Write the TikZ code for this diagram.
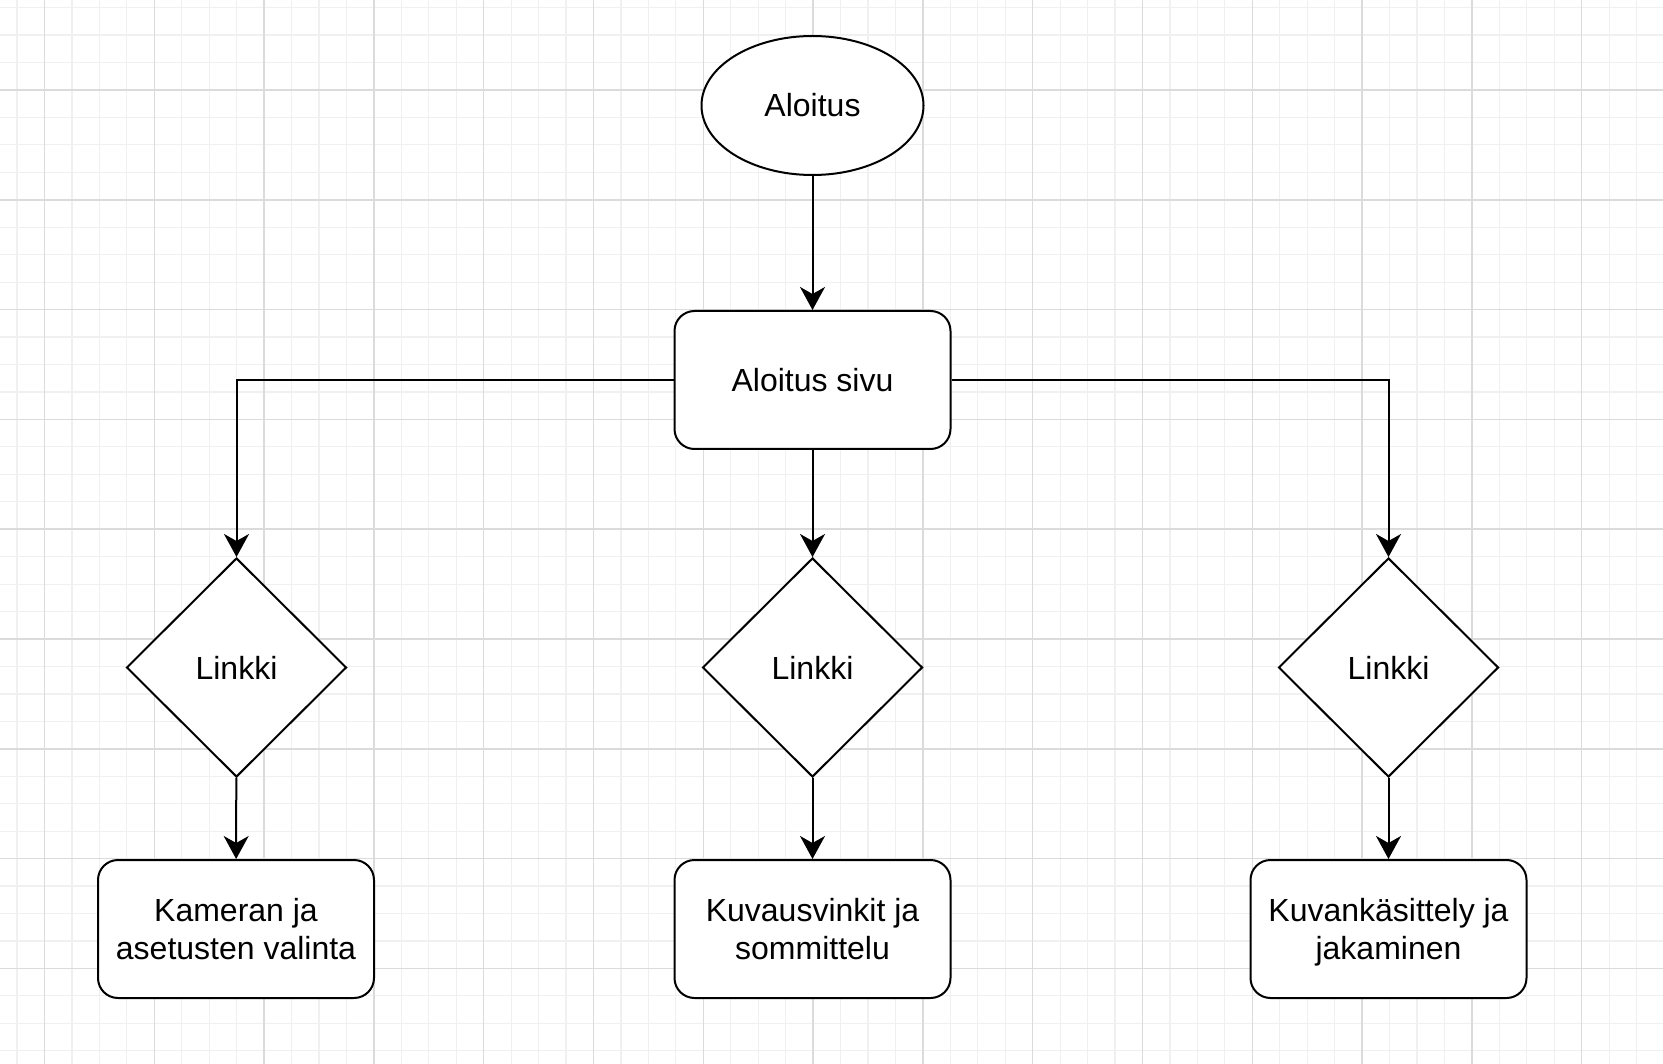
\documentclass[tikz,border=0pt]{standalone}
\usepackage{fontspec}
\setmainfont{Liberation Sans}
\usetikzlibrary{shapes.geometric,arrows.meta}
\colorlet{minorgray}{black!6}
\colorlet{majorgray}{black!14}

\begin{document}
\begin{tikzpicture}[x=1pt,y=-1pt,
  every node/.style={font=\fontsize{32}{38}\selectfont, align=center},
  StartStyle/.style={shape=ellipse, draw, line width=2pt, fill=white, minimum width=222pt, minimum height=139pt, inner sep=0},
  BoxStyle/.style={shape=rectangle, rounded corners=20pt, draw, line width=2pt, fill=white, minimum width=276pt, minimum height=138pt, inner sep=0, text depth=0pt},
  LinkStyle/.style={shape=diamond, draw, line width=2pt, fill=white, minimum width=220pt, minimum height=219pt, inner sep=0},
  EdgeStyle/.style={line width=2pt, -{Stealth[length=23pt, width=25pt, inset=7pt]}}]
\useasboundingbox[fill=white] (0,0) rectangle (1663,1064);
% grid
\foreach \i in {0,...,60} {
  \draw[minorgray, line width=1.2pt] (17.05+27.45*\i,0) -- (17.05+27.45*\i,1064);
}
\foreach \i in {0,...,38} {
  \draw[minorgray, line width=1.2pt] (0,7.65+27.45*\i) -- (1663,7.65+27.45*\i);
}
\foreach \i in {0,...,15} {
  \draw[majorgray, line width=1.5pt] (44.5+109.8*\i,0) -- (44.5+109.8*\i,1064);
}
\foreach \i in {0,...,9} {
  \draw[majorgray, line width=1.5pt] (0,90+109.8*\i) -- (1663,90+109.8*\i);
}
% nodes
\node[StartStyle] (start) at (812.5,105.5) {Aloitus};
\node[BoxStyle] (main) at (812.5,380) {Aloitus sivu};
\node[LinkStyle] (link1) at (236.5,667.5) {Linkki};
\node[LinkStyle] (link2) at (812.5,667.5) {Linkki};
\node[LinkStyle] (link3) at (1388.5,667.5) {Linkki};
\node[BoxStyle] (camera) at (236,929) {Kameran ja\\asetusten valinta};
\node[BoxStyle] (tips) at (812.5,929) {Kuvausvinkit ja\\sommittelu};
\node[BoxStyle] (edit) at (1388.5,929) {Kuvankäsittely ja\\jakaminen};
% edges
\draw[EdgeStyle] (start) -- (main);
\draw[EdgeStyle] (main.west) -| (link1.north);
\draw[EdgeStyle] (main) -- (link2);
\draw[EdgeStyle] (main.east) -| (link3.north);
\draw[EdgeStyle] (link1) -- (camera);
\draw[EdgeStyle] (link2) -- (tips);
\draw[EdgeStyle] (link3) -- (edit);
\end{tikzpicture}
\end{document}
